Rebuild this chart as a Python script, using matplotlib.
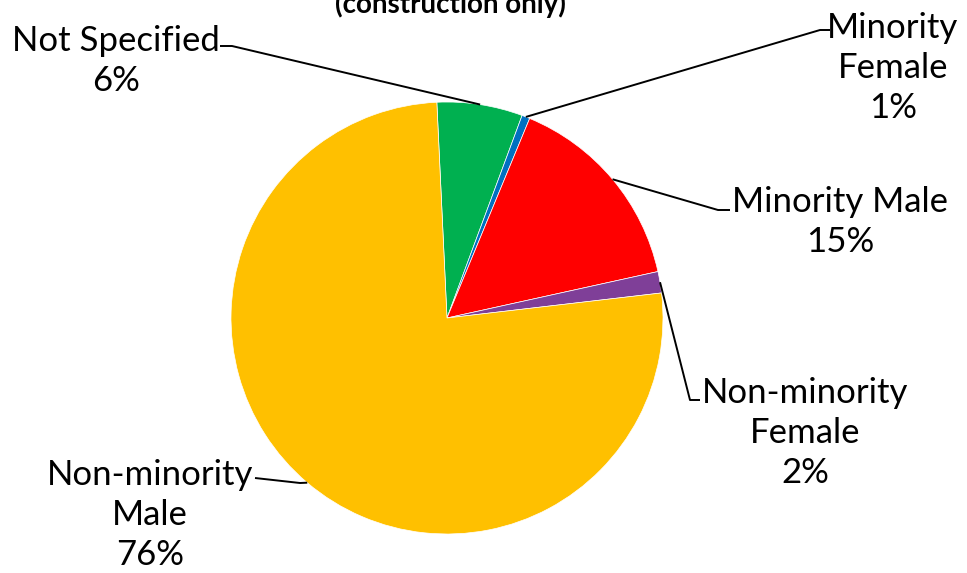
import numpy as np
import matplotlib
matplotlib.use("Agg")
import matplotlib.pyplot as plt

# data (percent of total)
categories = ["Not Specified", "Minority\nFemale", "Minority Male",
              "Non-minority\nFemale", "Non-minority\nMale"]
shares = [6.4, 0.6, 15.3, 1.6, 76.1]
colors = ["#00b050", "#0070c0", "#ff0000", "#7f3f98", "#ffc000"]

W, H = 967, 573
fig = plt.figure(figsize=(W / 100, H / 100), dpi=100)
ax = fig.add_axes([0, 0, 1, 1])

cx, cy, r = 447, H - 318, 216
wedges, _ = ax.pie(shares, colors=colors, startangle=92.7, counterclock=False,
                   center=(cx, cy), radius=r, frame=True,
                   wedgeprops=dict(linewidth=0.5, edgecolor="white"))
ax.set_xlim(0, W)
ax.set_ylim(0, H)
ax.set_aspect("equal")
ax.axis("off")

plt.rcParams["font.family"] = ["Lato", "DejaVu Sans"]

# label text centre, elbow point, end of horizontal segment (pixel coords, y from top)
layout = [
    ((116, 61), (232, 46), (220, 46)),
    ((893, 68), (820, 30), (830, 30)),
    ((840, 222), (718, 210), (730, 210)),
    ((805, 433), (690, 400), (700, 400)),
    ((150, 515), (300, 483), (255, 478)),
]

for w, cat, val, (tpos, elbow, hend) in zip(wedges, categories, shares, layout):
    ang = np.deg2rad((w.theta1 + w.theta2) / 2)
    ax_ = cx + r * np.cos(ang)
    ay_ = cy + r * np.sin(ang)
    xs = [ax_, elbow[0], hend[0]]
    ys = [ay_, H - elbow[1], H - hend[1]]
    ax.plot(xs, ys, color="black", lw=1.4, solid_capstyle="butt")
    ax.text(tpos[0], H - tpos[1], f"{cat}\n{round(val):d}%", ha="center", va="center",
            fontsize=25, linespacing=1.3, color="black")

ax.text(450, H - 13, "(construction only)", ha="center", va="baseline",
        fontsize=20, fontweight="bold", color="black")

fig.savefig("out.png", dpi=100)
